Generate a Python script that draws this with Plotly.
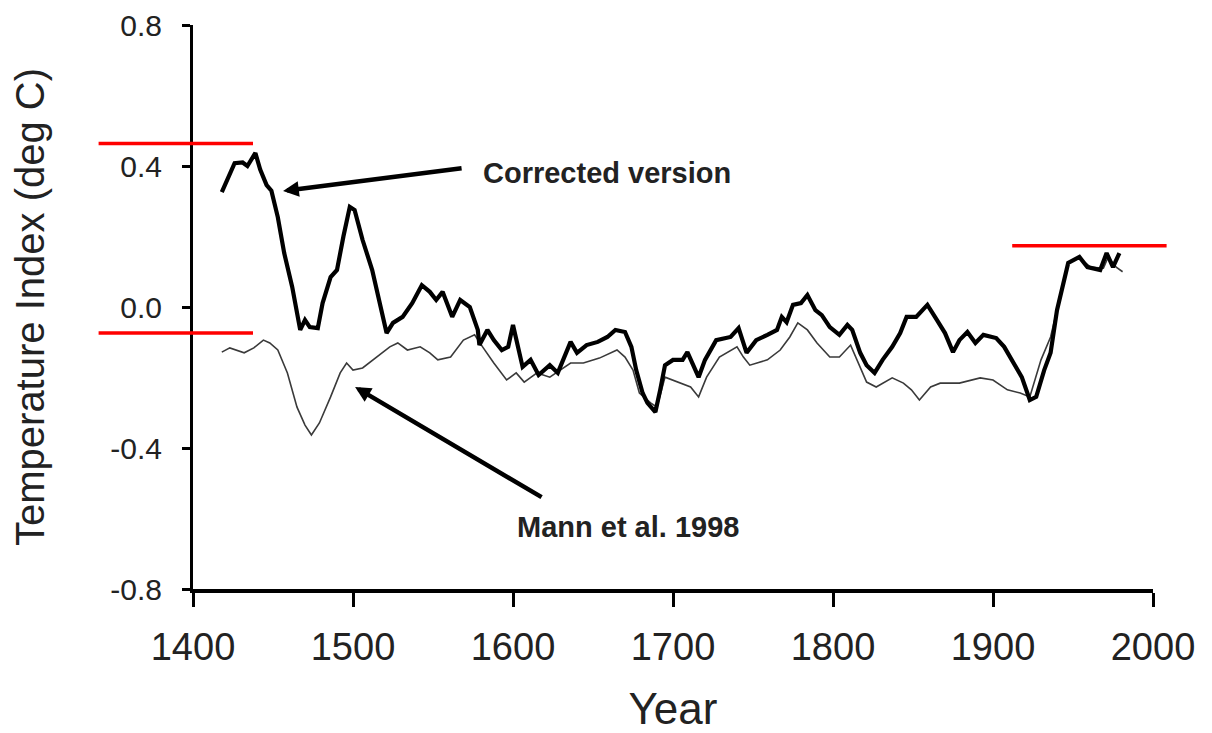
import plotly.graph_objects as go

# ---------------- data ----------------
corrected_years = [1418, 1422, 1426, 1431, 1434, 1439, 1442, 1446, 1449, 1453, 1457, 1462,
                   1467, 1470, 1473, 1478, 1481, 1486, 1490, 1494, 1498, 1501, 1506, 1512,
                   1517, 1521, 1525, 1531, 1537, 1543, 1548, 1552, 1556, 1562, 1567, 1573,
                   1578, 1579, 1584, 1588, 1593, 1597, 1600, 1606, 1611, 1616, 1623, 1628,
                   1636, 1640, 1646, 1653, 1659, 1664, 1670, 1674, 1677, 1681, 1684, 1689,
                   1692, 1695, 1700, 1706, 1709, 1716, 1720, 1727, 1736, 1741, 1746, 1752,
                   1759, 1765, 1768, 1771, 1775, 1780, 1784, 1789, 1793, 1798, 1804, 1809,
                   1812, 1817, 1821, 1826, 1831, 1837, 1842, 1846, 1852, 1859, 1865, 1870,
                   1875, 1879, 1884, 1889, 1894, 1902, 1907, 1913, 1918, 1923, 1927, 1932,
                   1936, 1940, 1944, 1947, 1954, 1959, 1967, 1971, 1975, 1979]
corrected_vals = [0.326, 0.369, 0.408, 0.410, 0.400, 0.437, 0.390, 0.346, 0.330, 0.255, 0.153, 0.057,
                  -0.065, -0.037, -0.057, -0.060, 0.011, 0.085, 0.105, 0.200, 0.284, 0.275, 0.190, 0.105,
                  0.011, -0.074, -0.045, -0.028, 0.011, 0.062, 0.043, 0.020, 0.043, -0.028, 0.020, 0.000,
                  -0.065, -0.108, -0.065, -0.094, -0.122, -0.113, -0.051, -0.170, -0.150, -0.193, -0.165, -0.187,
                  -0.099, -0.130, -0.108, -0.099, -0.085, -0.065, -0.071, -0.113, -0.179, -0.244, -0.272, -0.298,
                  -0.235, -0.165, -0.150, -0.150, -0.128, -0.199, -0.150, -0.094, -0.085, -0.060, -0.130, -0.094,
                  -0.079, -0.065, -0.028, -0.043, 0.006, 0.011, 0.034, -0.009, -0.023, -0.057, -0.079, -0.051,
                  -0.065, -0.130, -0.165, -0.187, -0.150, -0.113, -0.074, -0.028, -0.028, 0.006, -0.037, -0.074,
                  -0.128, -0.094, -0.071, -0.102, -0.079, -0.088, -0.113, -0.159, -0.199, -0.264, -0.255, -0.179,
                  -0.130, -0.009, 0.068, 0.125, 0.142, 0.113, 0.105, 0.153, 0.113, 0.153]

mann_years = [1418, 1423, 1432, 1438, 1444, 1448, 1453, 1459, 1465, 1470, 1474, 1479,
              1486, 1492, 1496, 1500, 1506, 1515, 1523, 1528, 1534, 1542, 1548, 1553,
              1561, 1569, 1576, 1581, 1588, 1596, 1602, 1607, 1615, 1623, 1636, 1644,
              1654, 1665, 1670, 1675, 1679, 1686, 1690, 1695, 1704, 1711, 1716, 1721,
              1729, 1740, 1744, 1748, 1759, 1767, 1773, 1778, 1784, 1790, 1798, 1804,
              1811, 1816, 1821, 1827, 1837, 1844, 1849, 1854, 1861, 1867, 1873, 1879,
              1892, 1900, 1909, 1917, 1923, 1930, 1936, 1942, 1947, 1954, 1961, 1969,
              1972, 1977, 1981]
mann_vals = [-0.128, -0.116, -0.130, -0.116, -0.094, -0.102, -0.122, -0.187, -0.284, -0.335, -0.363, -0.329,
             -0.255, -0.187, -0.159, -0.179, -0.173, -0.142, -0.113, -0.102, -0.122, -0.113, -0.130, -0.150,
             -0.142, -0.094, -0.079, -0.113, -0.159, -0.207, -0.187, -0.213, -0.187, -0.199, -0.159, -0.159,
             -0.145, -0.122, -0.142, -0.179, -0.244, -0.272, -0.284, -0.199, -0.216, -0.227, -0.255, -0.199,
             -0.142, -0.113, -0.142, -0.165, -0.150, -0.122, -0.085, -0.045, -0.065, -0.102, -0.142, -0.142,
             -0.108, -0.159, -0.213, -0.227, -0.201, -0.216, -0.235, -0.264, -0.227, -0.216, -0.216, -0.216,
             -0.201, -0.207, -0.235, -0.244, -0.255, -0.150, -0.085, 0.028, 0.125, 0.139, 0.113, 0.110,
             0.142, 0.113, 0.100]

x_tick_vals = [1400, 1500, 1600, 1700, 1800, 1900, 2000]
x_tick_text = ["1400", "1500", "1600", "1700", "1800", "1900", "2000"]
y_tick_vals = [-0.8, -0.4, 0.0, 0.4, 0.8]
y_tick_text = ["-0.8", "-0.4", "0.0", "0.4", "0.8"]

# red reference levels: (value, start year, end year)
red_levels = [0.464, -0.074, 0.174]
red_starts = [1341, 1341, 1912]
red_ends = [1437.5, 1437.5, 2008.5]

FONT = "Liberation Sans, Arial, sans-serif"
TXT = "#222222"

fig = go.Figure()
fig.add_trace(go.Scatter(x=mann_years, y=mann_vals, mode="lines",
                         line=dict(color="#3a3a3a", width=1.6), name="Mann et al. 1998",
                         showlegend=False))
fig.add_trace(go.Scatter(x=corrected_years, y=corrected_vals, mode="lines",
                         line=dict(color="black", width=4.2), name="Corrected version",
                         showlegend=False))

# red horizontal lines, x in paper coords so they may extend past the axes
x0, x1 = 1400.0, 2000.0
for v, a, b in zip(red_levels, red_starts, red_ends):
    fig.add_shape(type="line", xref="paper", yref="y",
                  x0=(a - x0) / (x1 - x0), x1=(b - x0) / (x1 - x0), y0=v, y1=v,
                  line=dict(color="#ff0000", width=3.5), layer="above")

# arrows
fig.add_annotation(x=1456.3, y=0.329, ax=1568.8, ay=0.394, xref="x", yref="y",
                   axref="x", ayref="y", text="", showarrow=True, arrowhead=2,
                   arrowsize=0.7, arrowwidth=4.5, arrowcolor="black")
fig.add_annotation(x=1501.3, y=-0.227, ax=1618.8, ay=-0.542, xref="x", yref="y",
                   axref="x", ayref="y", text="", showarrow=True, arrowhead=2,
                   arrowsize=0.7, arrowwidth=4.5, arrowcolor="black")
# labels
fig.add_annotation(x=1580.0, y=0.380, xref="x", yref="y", text="<b>Corrected version</b>",
                   showarrow=False, xanchor="left", yanchor="middle",
                   font=dict(family=FONT, size=29, color=TXT))
fig.add_annotation(x=1601.0, y=-0.624, xref="x", yref="y", text="<b>Mann et al. 1998</b>",
                   showarrow=False, xanchor="left", yanchor="middle",
                   font=dict(family=FONT, size=29, color=TXT))

fig.update_layout(
    width=1204, height=725,
    margin=dict(l=185, r=59, t=17, b=144, autoexpand=False),
    paper_bgcolor="white", plot_bgcolor="white",
    font=dict(family=FONT, color=TXT),
    xaxis=dict(range=[1400, 2000], tickvals=x_tick_vals, ticktext=x_tick_text,
               showgrid=False, zeroline=False, showline=True, linecolor="black",
               linewidth=3.5, ticks="outside", ticklen=14, tickwidth=3, tickcolor="black",
               tickfont=dict(family=FONT, size=38, color=TXT), ticklabelstandoff=8,
               automargin=False,
               title=dict(text="Year", font=dict(family=FONT, size=44, color=TXT), standoff=40)),
    yaxis=dict(range=[-0.8, 0.8], tickvals=y_tick_vals, ticktext=y_tick_text,
               showgrid=False, zeroline=False, showline=True, linecolor="black",
               linewidth=3, ticks="outside", ticklen=8, tickwidth=2.5, tickcolor="black",
               tickfont=dict(family=FONT, size=30, color=TXT), ticklabelstandoff=14,
               automargin=False,
               title=dict(text="Temperature Index (deg C)",
                          font=dict(family=FONT, size=40, color=TXT), standoff=65)),
)

fig.write_html("out.html")
